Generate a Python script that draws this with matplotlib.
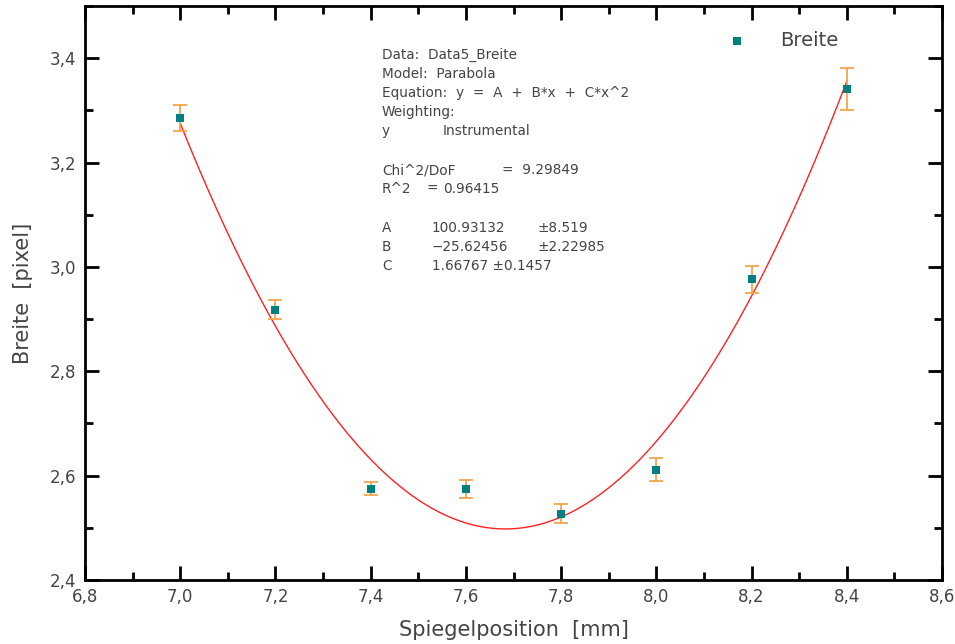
"""Parabola fit of spot width vs. mirror position (Origin-style plot)."""

import matplotlib

matplotlib.use("Agg")
import matplotlib.pyplot as plt
import numpy as np
from matplotlib.ticker import FuncFormatter, MultipleLocator

# measured data
position_mm = [7.0, 7.2, 7.4, 7.6, 7.8, 8.0, 8.2, 8.4]
breite_px = [3.285, 2.918, 2.575, 2.574, 2.527, 2.611, 2.976, 3.341]
breite_err = [0.025, 0.018, 0.013, 0.017, 0.018, 0.022, 0.026, 0.040]

# fit parameters as printed in the fit report
FIT_A, FIT_B, FIT_C = 100.93132, -25.62456, 1.66767

REPORT = [
    (55, [(382, "Data:  Data5_Breite")]),
    (74, [(382, "Model:  Parabola")]),
    (93, [(382, "Equation:  y  =  A  +  B*x  +  C*x^2")]),
    (112, [(382, "Weighting:")]),
    (131, [(382, "y"), (443, "Instrumental")]),
    (170, [(382, "Chi^2/DoF"), (502, "=  9.29849")]),
    (189, [(382, "R^2"), (426, "="), (443, "0.96415")]),
    (228, [(382, "A"), (432, "100.93132"), (537, "±8.519")]),
    (247, [(382, "B"), (432, "\u221225.62456"), (537, "±2.22985")]),
    (266, [(382, "C"), (432, "1.66767 ±0.1457")]),
]

TEXT = "#444444"
W, H = 955, 644

fig = plt.figure(figsize=(W / 100, H / 100), dpi=100)
ax = fig.add_axes([85 / W, 1 - 580 / H, (942 - 85) / W, (580 - 6) / H])

xfit = np.linspace(position_mm[0], position_mm[-1], 300)
ax.plot(xfit, FIT_A + FIT_B * xfit + FIT_C * xfit**2, color="#ff2020", linewidth=1.0, zorder=2)
ax.errorbar(position_mm, breite_px, yerr=breite_err, fmt="none", ecolor="#f0a040",
            elinewidth=1.2, capsize=5, capthick=1.2, zorder=3)
ax.plot(position_mm, breite_px, "s", color="#008080", markersize=6,
        markeredgewidth=0, zorder=4)

ax.set_xlim(6.8, 8.6)
ax.set_ylim(2.4, 3.5)
ax.xaxis.set_major_locator(MultipleLocator(0.2))
ax.xaxis.set_minor_locator(MultipleLocator(0.1))
ax.yaxis.set_major_locator(MultipleLocator(0.2))
ax.yaxis.set_minor_locator(MultipleLocator(0.1))
comma = FuncFormatter(lambda v, _: f"{v:.1f}".replace(".", ","))
ax.xaxis.set_major_formatter(comma)
ax.yaxis.set_major_formatter(comma)

for side in ax.spines.values():
    side.set_linewidth(2)
ax.tick_params(which="both", direction="in", top=True, right=True,
               labeltop=False, labelright=False, width=2, colors="black",
               labelcolor=TEXT, labelsize=12)
ax.tick_params(which="major", length=10, pad=6)
ax.tick_params(which="minor", length=6)

ax.set_xlabel("Spiegelposition  [mm]", fontsize=15, color=TEXT, labelpad=10)
ax.set_ylabel("Breite  [pixel]", fontsize=15, color=TEXT, labelpad=12)

# fit report, placed in pixel coordinates of the figure
for y, cells in REPORT:
    for x, s in cells:
        fig.text(x / W, 1 - y / H, s, fontsize=9.8, color=TEXT, va="center", ha="left")

# legend
fig.lines.append(plt.Line2D([737 / W], [1 - 41 / H], marker="s", color="#008080",
                            markersize=6, markeredgewidth=0, transform=fig.transFigure))
fig.text(780 / W, 1 - 41 / H, "Breite", fontsize=14, color=TEXT, va="center", ha="left")

fig.savefig("out.png", dpi=100, facecolor="white")
